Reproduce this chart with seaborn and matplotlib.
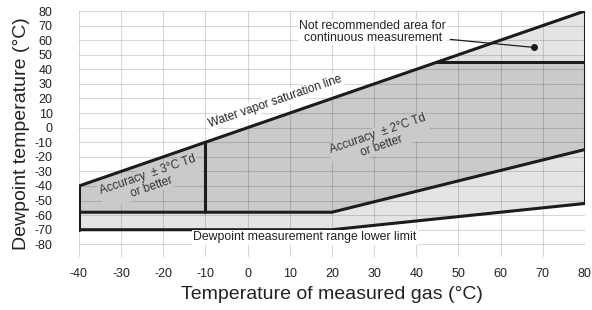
import matplotlib
matplotlib.use("Agg")
import matplotlib.pyplot as plt
import seaborn as sns
import numpy as np

# boundaries of the measurement chart (°C)
sat_x = [-40, 80]            # water vapor saturation line
sat_y = [-40, 80]
acc_low_x = [-40, 20, 80]    # lower edge of the accuracy area
acc_low_y = [-58, -58, -15]
range_low_x = [-40, 20, 80]  # dewpoint measurement range lower limit
range_low_y = [-70, -70, -52]
not_rec_y = 45               # above this: not recommended for continuous use
split_x = -10                # ±3 °C / ±2 °C boundary
dot_x, dot_y = 68, 55        # marker inside the not-recommended area

x_ticks = list(range(-40, 81, 10))
y_ticks = list(range(-80, 81, 10))

DARK = "#c9cacc"
LIGHT = "#e3e4e6"
LINE = "#1c1c1c"
TXT = "#222222"

sns.set_style("whitegrid", {"axes.edgecolor": "white"})
plt.rcParams["font.family"] = ["Liberation Sans", "DejaVu Sans"]
plt.rcParams["axes.unicode_minus"] = False

fig, ax = plt.subplots(figsize=(5.92, 3.10), dpi=100)
fig.subplots_adjust(left=0.1334, right=0.988, top=0.9645, bottom=0.171)

xs = np.array(sorted(set(sat_x + acc_low_x + range_low_x + [split_x, not_rec_y])), dtype=float)
sat = np.interp(xs, sat_x, sat_y)
acc_low = np.interp(xs, acc_low_x, acc_low_y)
rng_low = np.interp(xs, range_low_x, range_low_y)

# shaded areas
ax.fill_between(xs, acc_low, np.minimum(sat, not_rec_y), color=DARK, lw=0, zorder=0.5)
ax.fill_between(xs, rng_low, acc_low, color=LIGHT, lw=0, zorder=0.5)
ax.fill_between(xs, not_rec_y, sat, where=sat >= not_rec_y, color=LIGHT, lw=0, zorder=0.5)

# outlines
kw = dict(color=LINE, lw=2.2, estimator=None, sort=False, ax=ax, zorder=3)
sns.lineplot(x=sat_x, y=sat_y, **kw)
sns.lineplot(x=acc_low_x, y=acc_low_y, **kw)
sns.lineplot(x=range_low_x, y=range_low_y, **kw)
sns.lineplot(x=[not_rec_y, sat_x[-1]], y=[not_rec_y, not_rec_y], **kw)
sns.lineplot(x=[split_x, split_x], y=[acc_low_y[0], split_x], **kw)
sns.lineplot(x=[sat_x[0], sat_x[0]], y=[range_low_y[0], sat_y[0]], **kw)
sns.lineplot(x=[sat_x[-1], sat_x[-1]], y=[range_low_y[-1], sat_y[-1]], **kw)

ax.set_xlim(-40, 80)
ax.set_ylim(-88.7, 80)
ax.set_xticks(x_ticks)
ax.set_yticks(y_ticks)
# semi-transparent grid so it darkens a little over the shaded areas
ax.grid(True, color="black", alpha=0.15, lw=0.8)
ax.set_axisbelow(False)
for g in ax.get_xgridlines() + ax.get_ygridlines():
    g.set_zorder(1)
for s in ax.spines.values():
    s.set_visible(False)
ax.tick_params(axis="x", length=0, pad=8, labelsize=9, colors=TXT)
ax.tick_params(axis="y", length=0, pad=19, labelsize=9, colors=TXT)

ax.set_xlabel("Temperature of measured gas (°C)", fontsize=14, color=TXT, labelpad=4)
ax.set_ylabel("Dewpoint temperature (°C)", fontsize=14, color=TXT, labelpad=3)

rot = 19
white = dict(boxstyle="square,pad=0.1", fc="white", ec="none")
gray = dict(boxstyle="square,pad=0.1", fc=DARK, ec="none")
ax.text(6.5, 18, "Water vapor saturation line", rotation=rot, ha="center", va="center",
        fontsize=8.5, color=TXT, bbox=white, zorder=4, rotation_mode="anchor")
ax.text(-23.2, -36.6, "Accuracy  ± 3°C Td\nor better", rotation=rot, ha="center", va="center",
        fontsize=8.5, color="#333333", bbox=gray, zorder=4, rotation_mode="anchor",
        linespacing=1.0)
ax.text(31.3, -8.5, "Accuracy  ± 2°C Td\nor better", rotation=rot, ha="center", va="center",
        fontsize=8.5, color="#333333", bbox=gray, zorder=4, rotation_mode="anchor",
        linespacing=1.0)
ax.text(13.6, -75.3, "Dewpoint measurement range lower limit", ha="center", va="center",
        fontsize=8.8, color=TXT, bbox=white, zorder=4)

ax.scatter([dot_x], [dot_y], s=16, color=LINE, zorder=5)
ax.annotate("Not recommended area for\ncontinuous measurement", xy=(dot_x, dot_y),
            xytext=(29.7, 65.6), ha="center", va="center", fontsize=8.8, color=TXT,
            linespacing=1.05, bbox=white, zorder=4,
            arrowprops=dict(arrowstyle="-", color=LINE, lw=0.9, shrinkA=2, shrinkB=0))

fig.savefig("out.png", dpi=100)
